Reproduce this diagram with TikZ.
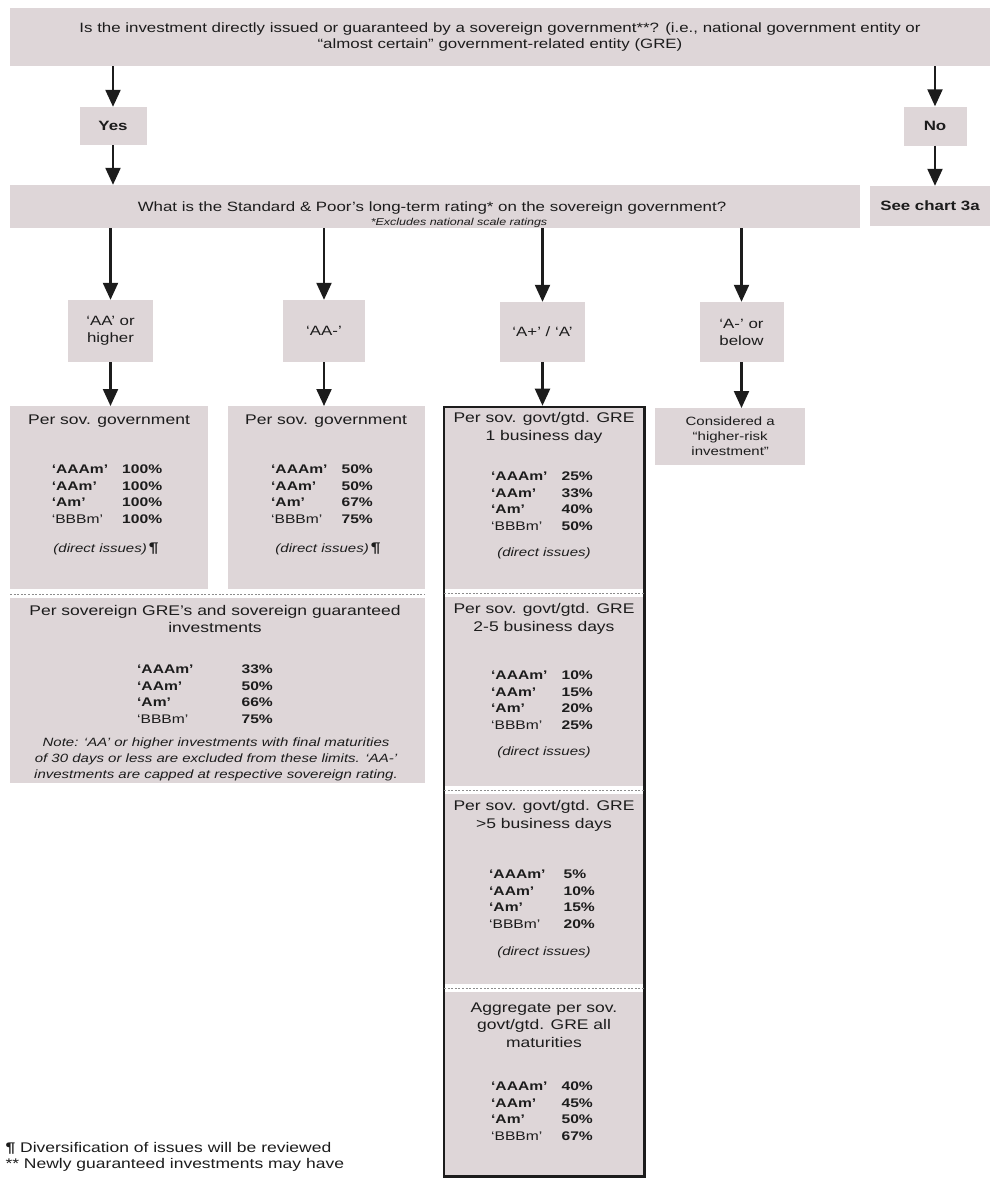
\documentclass[tikz,border=0pt]{standalone}
\usepackage{fontspec}
\setmainfont{Liberation Sans}[FakeStretch=1.25]
\usetikzlibrary{arrows.meta,positioning,fit,calc,backgrounds}
\definecolor{boxfill}{RGB}{222,214,216}
\definecolor{ink}{RGB}{28,28,28}
\newcommand{\fs}[1]{\fontsize{#1}{1.25\dimexpr #1pt\relax}\selectfont}
\newcommand{\ratetab}[5][16pt]{{\fontsize{12.5}{16.5}\selectfont
\begin{tabular}{@{}l@{\hspace{#1}}l@{}}%
\bfseries`AAAm' & \bfseries #2\\ \bfseries`AAm' & \bfseries #3\\
\bfseries`Am' & \bfseries #4\\ `BBBm' & \bfseries #5\end{tabular}}}
\begin{document}
\begin{tikzpicture}[x=1pt,y=-1pt,font=\fs{12},text=ink,
  b/.style={fill=boxfill,align=center,inner sep=2pt},
  hd/.style={align=center,font=\fs{14}},
  lab/.style={font=\fs{13.5}},
  big/.style={font=\fs{13.5}\bfseries},
  di/.style={font=\fs{12}\itshape},
  arr/.style={-{Triangle[width=15pt,length=17pt]},line width=2.2pt,draw=ink},
  dots/.style={draw=black!45,dash pattern=on 2pt off 1.6pt,line width=1.1pt},
  small/.style={align=center,font=\fontsize{12}{16}\selectfont\itshape}]
\useasboundingbox (0,0) rectangle (997,1184);
% question and yes / no
\node[b,minimum width=980pt,minimum height=58pt,font=\fs{13.5}] (ques) at (500,37)
  {Is the investment directly issued or guaranteed by a sovereign government**? (i.e., national government entity or\\
   ``almost certain'' government-related entity (GRE)};
\node[b,big,minimum width=67pt,minimum height=38pt] (yes) at (113,126) {Yes};
\node[b,big,minimum width=63pt,minimum height=39pt] (no) at (935,126) {No};
\node[b,big,minimum width=120pt,minimum height=40pt] (chart) at (930,206) {See chart 3a};
\node[b,minimum width=850pt,minimum height=43pt] (rate) at (435,206.5) {};
\node[lab] (rateq) at (432,208)
  {What is the Standard \& Poor's long-term rating* on the sovereign government?};
\node[font=\fs{10}\itshape,inner sep=0pt] (raten) at (459,223) {*Excludes national scale ratings};
% rating classes
\node[b,lab,minimum width=85pt,minimum height=62pt] (r1) at (110.5,331) {`AA' or\\higher};
\node[b,lab,minimum width=82pt,minimum height=62pt] (r2) at (324,331) {`AA-'};
\node[b,lab,minimum width=85pt,minimum height=60pt] (r3) at (542.5,332) {`A+' / `A'};
\node[b,lab,minimum width=84pt,minimum height=60pt] (r4) at (741.5,332) {`A-' or\\below};
% left limits
\node[b,anchor=north west,minimum width=198pt,minimum height=183pt] (p1) at (10,406) {};
\node[b,anchor=north west,minimum width=197pt,minimum height=183pt] (p2) at (228,406) {};
\node[b,anchor=north west,minimum width=415pt,minimum height=185pt] (p3) at (10,598) {};
\node[hd] (p1h) at (109,421) {Per sov. government};
\node (p1r) at (107,495) {\ratetab[14pt]{100\%}{100\%}{100\%}{100\%}};
\node[di] (p1d) at (106,549) {(direct issues)\,{\upshape\bfseries\fs{14}¶}};
\node[hd] (p2h) at (326,421) {Per sov. government};
\node (p2r) at (322,495) {\ratetab[14pt]{50\%}{50\%}{67\%}{75\%}};
\node[di] (p2d) at (328,549) {(direct issues)\,{\upshape\bfseries\fs{14}¶}};
\node[hd] (p3h) at (215,619) {Per sovereign GRE's and sovereign guaranteed\\investments};
\node (p3r) at (205,695) {\ratetab[48pt]{33\%}{50\%}{66\%}{75\%}};
\node[small] (p3n) at (216,759) {Note: `AA' or higher investments with final maturities\\
  of 30 days or less are excluded from these limits. `AA-'\\
  investments are capped at respective sovereign rating.};
\draw[dots] ($(p1.south west)+(0,5)$) -- ($(p2.south east)+(0,5)$);
% middle column
\node[b,anchor=north west,minimum width=200pt,minimum height=182pt] (g1) at (444,407) {};
\node[b,anchor=north west,minimum width=200pt,minimum height=189pt] (g2) at (444,597) {};
\node[b,anchor=north west,minimum width=200pt,minimum height=190pt] (g3) at (444,794) {};
\node[b,anchor=north west,minimum width=200pt,minimum height=184pt] (g4) at (444,992) {};
\node[draw=ink,line width=2.6pt,fit=(g1)(g4),inner sep=0pt] (gcol) {};
\node[hd] (g1h) at (544,428) {Per sov. govt/gtd. GRE\\1 business day};
\node (g1r) at (542,502) {\ratetab[14pt]{25\%}{33\%}{40\%}{50\%}};
\node[di] (g1d) at (544,553) {(direct issues)};
\node[hd] (g2h) at (544,619) {Per sov. govt/gtd. GRE\\2-5 business days};
\node (g2r) at (542,701) {\ratetab[14pt]{10\%}{15\%}{20\%}{25\%}};
\node[di] (g2d) at (544,752) {(direct issues)};
\node[hd] (g3h) at (544,816) {Per sov. govt/gtd. GRE\\>5 business days};
\node (g3r) at (542,900) {\ratetab[18pt]{5\%}{10\%}{15\%}{20\%}};
\node[di] (g3d) at (544,952) {(direct issues)};
\node[hd] (g4h) at (544,1025) {Aggregate per sov.\\govt/gtd. GRE all\\maturities};
\node (g4r) at (542,1112) {\ratetab[14pt]{40\%}{45\%}{50\%}{67\%}};
\foreach \u/\v in {g1/g2,g2/g3,g3/g4}
  \draw[dots] ($(\u.south west)!.5!(\v.north west)$) -- ($(\u.south east)!.5!(\v.north east)$);
% higher risk
\node[b,anchor=north west,minimum width=150pt,minimum height=57pt] (risk) at (655,408)
  {Considered a\\``higher-risk\\investment''};
% footnotes
\node[anchor=west,font=\fs{14}] (fn1) at (2,1148) {{\bfseries ¶} Diversification of issues will be reviewed};
\node[anchor=west,font=\fs{14}] (fn2) at (2,1165) {** Newly guaranteed investments may have};
% arrows
\draw[arr] (ques.south -| yes) -- (yes);
\draw[arr] (ques.south -| no) -- (no);
\draw[arr] (yes) -- (yes |- rate.north);
\draw[arr] (no) -- (no |- chart.north);
\foreach \r in {r1,r2,r3,r4}
  \draw[arr] (rate.south -| \r) -- (\r);
\draw[arr] (r1) -- (r1 |- p1.north);
\draw[arr] (r2) -- (r2 |- p2.north);
\draw[arr] (r3) -- (r3 |- gcol.north);
\draw[arr] (r4) -- (r4 |- risk.north);
\end{tikzpicture}
\end{document}
